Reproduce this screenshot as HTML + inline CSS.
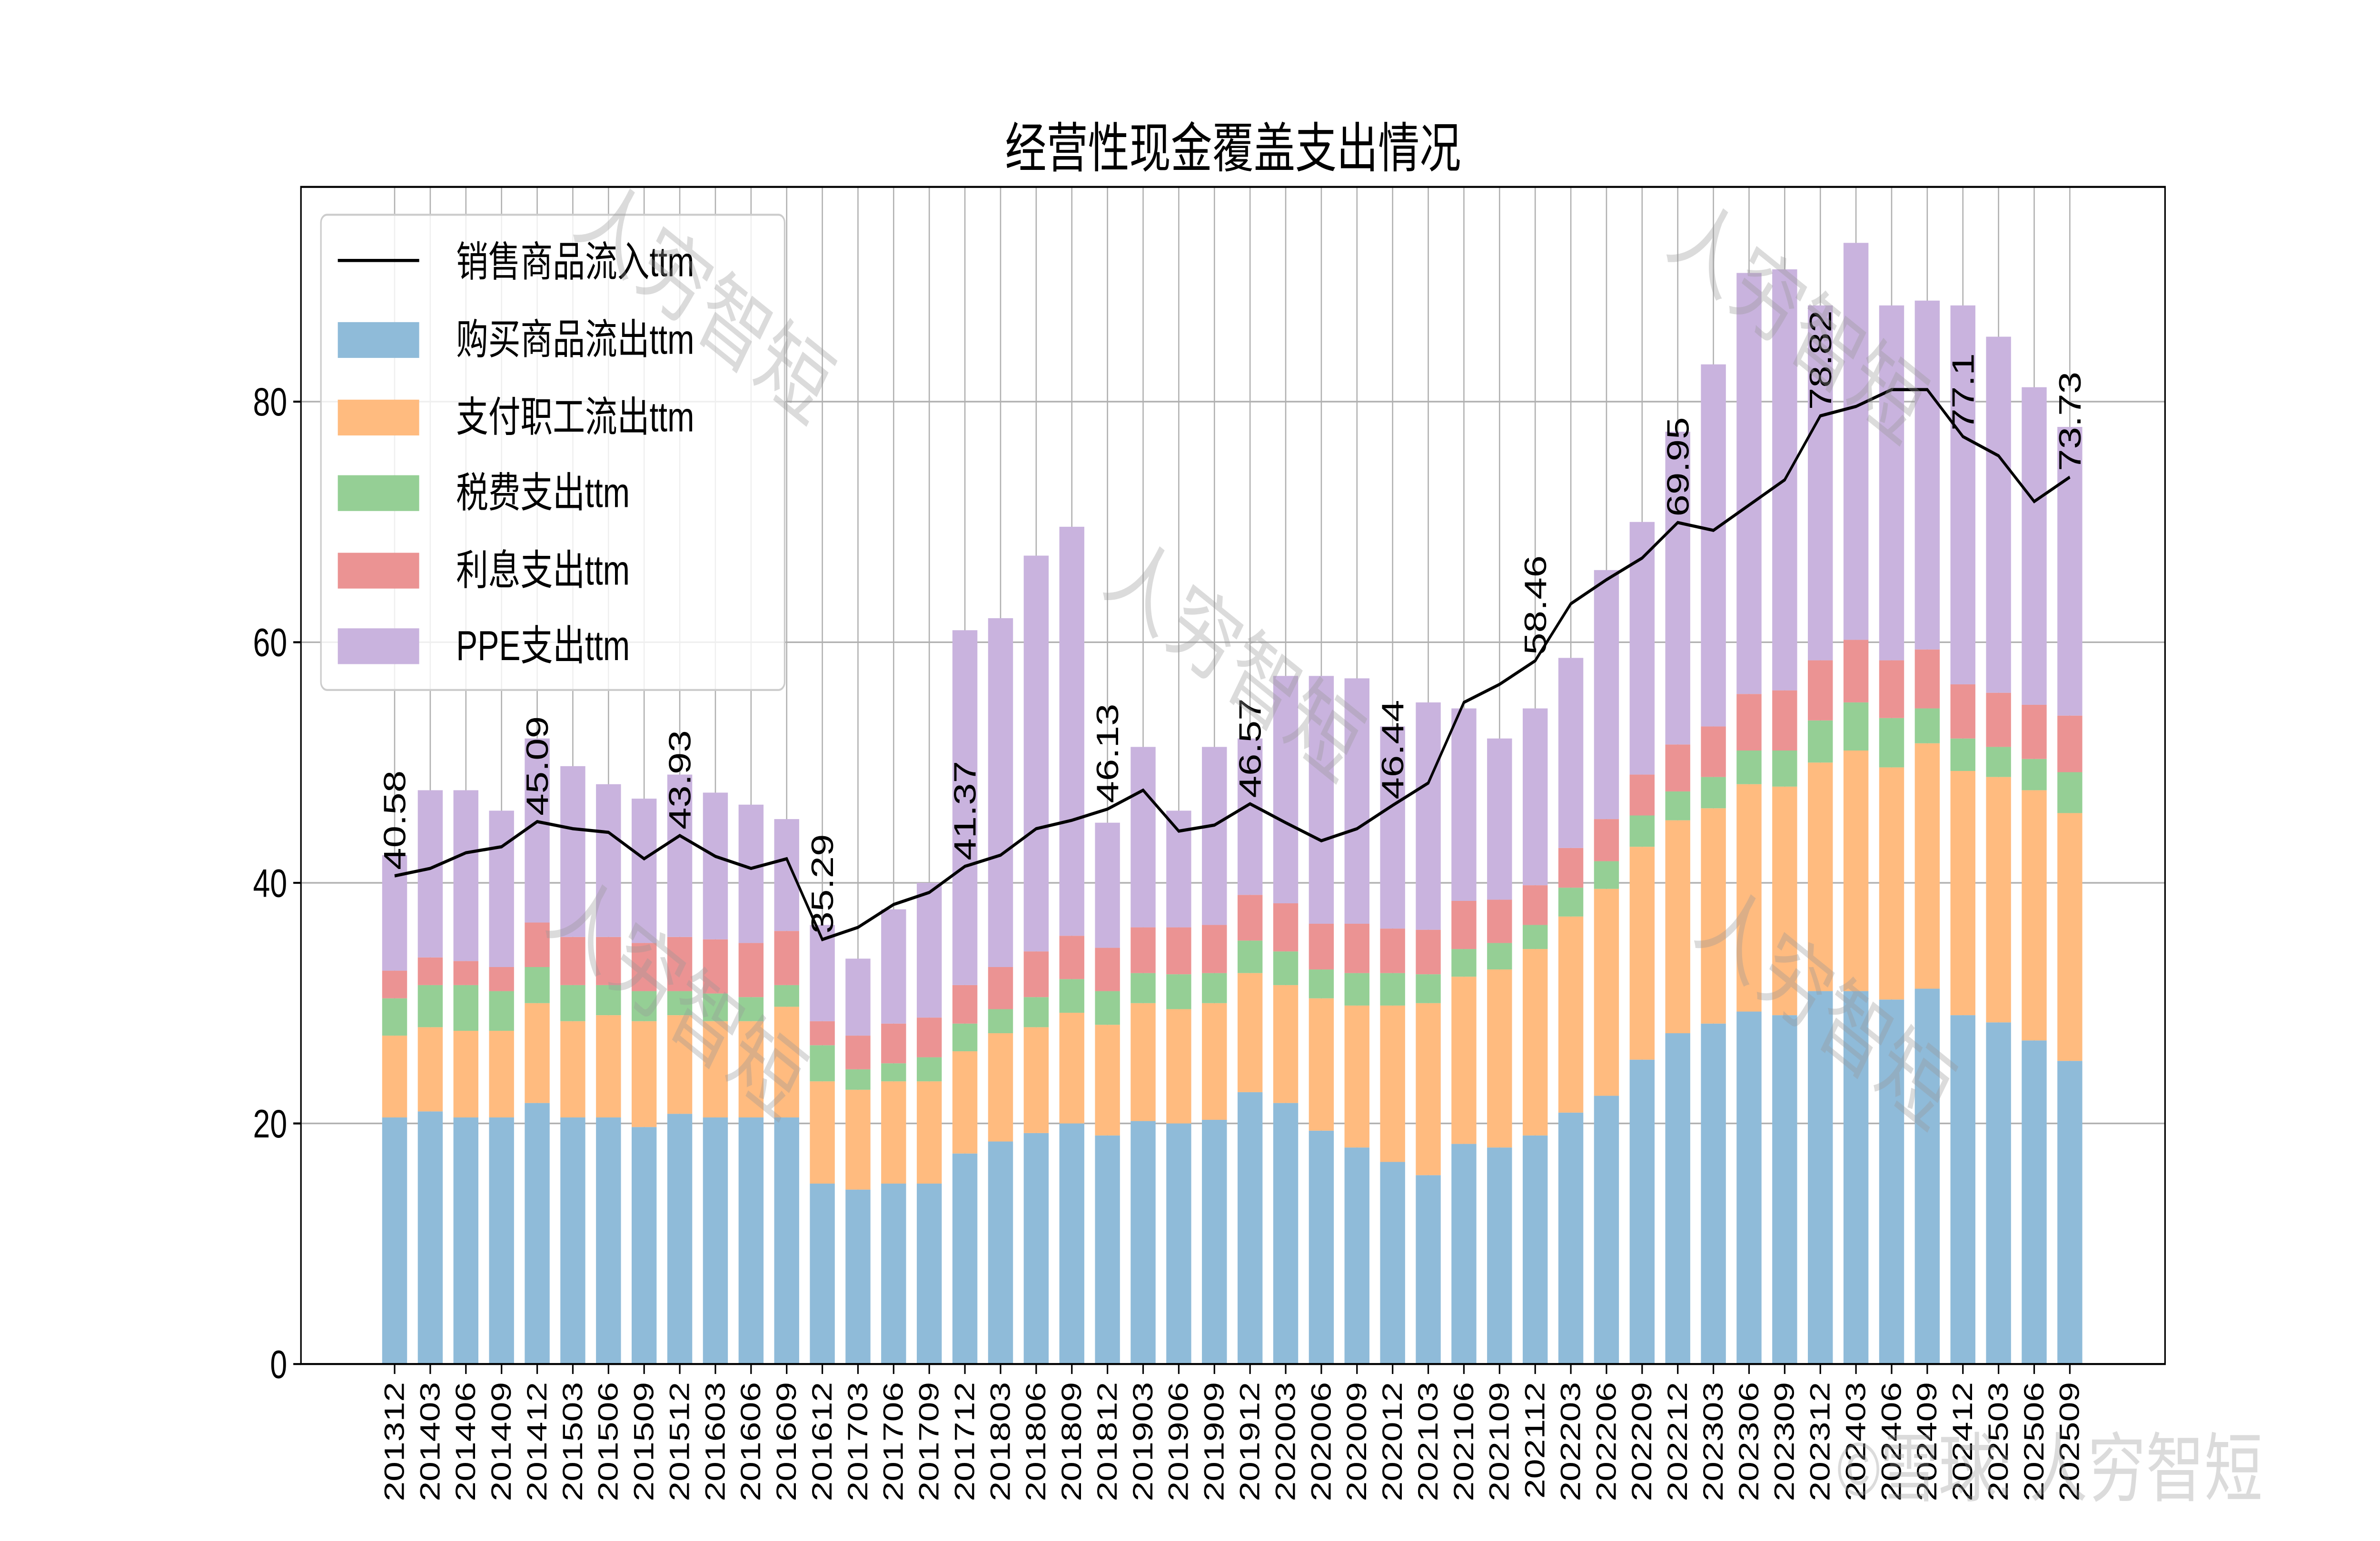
<!DOCTYPE html>
<html><head><meta charset="utf-8"><style>
html,body{margin:0;padding:0;background:#fff;overflow:hidden;width:100vw;height:100vh;}
svg{display:block;width:100vw;height:100vh;font-family:"Liberation Sans","Noto Sans CJK SC",sans-serif;}
</style></head><body>
<svg id="chart" viewBox="0 0 1550 775" preserveAspectRatio="none" xmlns="http://www.w3.org/2000/svg">
<rect x="0" y="0" width="1550" height="775" fill="#fff"/>
<text x="803" y="84" font-size="27" text-anchor="middle" fill="#000">经营性现金覆盖支出情况</text>
<g id="grid"></g>
<g id="bars"></g>
<g id="line"></g>
<g id="labels"></g>
<g id="axes"></g>
<g>
<rect x="209" y="108" width="302" height="239" rx="4" fill="#fff" fill-opacity="0.8" stroke="#ccc"/>
<line x1="220" y1="131" x2="273" y2="131" stroke="#000" stroke-width="1.6"/>
<text x="297" y="139" font-size="21">销售商品流入ttm</text>
<rect x="220" y="162" width="53" height="18" fill="#8fbbd9"/>
<text x="297" y="178" font-size="21">购买商品流出ttm</text>
<rect x="220" y="201" width="53" height="18" fill="#ffbb7f"/>
<text x="297" y="217" font-size="21">支付职工流出ttm</text>
<rect x="220" y="239" width="53" height="18" fill="#95cf95"/>
<text x="297" y="255" font-size="21">税费支出ttm</text>
<rect x="220" y="278" width="53" height="18" fill="#eb9393"/>
<text x="297" y="294" font-size="21">利息支出ttm</text>
<rect x="220" y="316" width="53" height="18" fill="#c9b3de"/>
<text x="297" y="332" font-size="21">PPE支出ttm</text>
</g>
<g fill="#999" fill-opacity="0.35" font-size="46" text-anchor="middle">
<text transform="translate(450,165) rotate(32)">人穷智短</text>
<text transform="translate(795,345) rotate(32)">人穷智短</text>
<text transform="translate(432,515) rotate(32)">人穷智短</text>
<text transform="translate(1162,175) rotate(32)">人穷智短</text>
<text transform="translate(1180,520) rotate(32)">人穷智短</text>
<text x="1335" y="752" font-size="38">©雪球: 人穷智短</text>
</g>
</svg>
<script>
const categories=["201312","201403","201406","201409","201412","201503","201506","201509","201512","201603","201606","201609","201612","201703","201706","201709","201712","201803","201806","201809","201812","201903","201906","201909","201912","202003","202006","202009","202012","202103","202106","202109","202112","202203","202206","202209","202212","202303","202306","202309","202312","202403","202406","202409","202412","202503","202506","202509"];
const purchase=[20.5,21,20.5,20.5,21.7,20.5,20.5,19.7,20.8,20.5,20.5,20.5,15,14.5,15,15,17.5,18.5,19.2,20,19,20.2,20,20.3,22.6,21.7,19.4,18,16.8,15.7,18.3,18,19,20.9,22.3,25.3,27.5,28.3,29.3,29,31,31,30.3,31.2,29,28.4,26.9,25.2];
const salary=[6.8,7,7.2,7.2,8.3,8,8.5,8.8,8.2,8,8,9.2,8.5,8.3,8.5,8.5,8.5,9,8.8,9.2,9.2,9.8,9.5,9.7,9.9,9.8,11,11.8,13,14.3,13.9,14.8,15.5,16.3,17.2,17.7,17.7,17.9,18.9,19,19,20,19.3,20.4,20.3,20.4,20.8,20.6];
const tax=[3.1,3.5,3.8,3.3,3,3,2.5,2.5,2,2.3,2,1.8,3,1.7,1.5,2,2.3,2,2.5,2.8,2.8,2.5,2.9,2.5,2.7,2.8,2.4,2.7,2.7,2.4,2.3,2.2,2,2.4,2.3,2.6,2.4,2.6,2.8,3,3.5,4,4.1,2.9,2.7,2.5,2.6,3.4];
const interest=[2.3,2.3,2,2,3.7,4,4,4,4.5,4.5,4.5,4.5,2,2.8,3.3,3.3,3.2,3.5,3.8,3.6,3.6,3.8,3.9,4,3.8,4,3.8,4.1,3.7,3.7,4,3.6,3.3,3.3,3.5,3.4,3.9,4.2,4.7,5,5,5.2,4.8,4.9,4.5,4.5,4.5,4.7];
const ppe=[9.6,13.9,14.2,13,15.3,14.2,12.7,12,13.5,12.2,11.5,9.3,8,6.4,9.5,11.2,29.5,29,32.9,34,10.4,15,9.7,14.8,13,18.9,20.6,20.4,16.8,18.9,16,13.4,14.7,15.8,20.7,21,26,30.1,35,35,29.5,33,29.5,29,31.5,29.6,26.4,24];
const inflow=[40.58,41.2,42.5,43,45.09,44.5,44.2,42,43.93,42.2,41.2,42,35.29,36.3,38.2,39.2,41.37,42.3,44.5,45.2,46.13,47.7,44.3,44.8,46.57,45,43.5,44.5,46.44,48.3,55,56.5,58.46,63.2,65.2,67,69.95,69.3,71.4,73.5,78.82,79.6,81,81,77.1,75.5,71.7,73.73];
const yTicks=[0,20,40,60,80];
const labelEvery=4;

const NS="http://www.w3.org/2000/svg";
const X0=196,X1=1410,Y0=686,Ytop=94;
const firstX=257,step=(1348-257)/(categories.length-1);
function xs(i){return firstX+i*step;}
function ys(v){return Y0-v*(484/80);}
function mk(tag,attrs,parent){const e=document.createElementNS(NS,tag);for(const k in attrs)e.setAttribute(k,attrs[k]);parent.appendChild(e);return e;}
const grid=document.getElementById('grid'),bars=document.getElementById('bars'),lineG=document.getElementById('line'),labels=document.getElementById('labels'),axes=document.getElementById('axes');
categories.forEach((c,i)=>{
  const g=mk('line',{x1:xs(i),x2:xs(i),y1:Ytop,y2:Y0,stroke:'#b0b0b0','stroke-width':0.8},grid);
  
  
});
yTicks.forEach(t=>{
  const g=mk('line',{x1:X0,x2:X1,y1:ys(t),y2:ys(t),stroke:'#b0b0b0','stroke-width':0.8},grid);
  
  
  const tk=mk('line',{x1:X0-5,x2:X0,y1:ys(t),y2:ys(t),stroke:'#000'},axes);
  
  
  const tl=mk('text',{x:X0-9,y:ys(t)+7,'font-size':20,'text-anchor':'end'},axes);
  tl.textContent=t;
  
  
});
const series=[[purchase,'#8fbbd9','purchase'],[salary,'#ffbb7f','salary'],[tax,'#95cf95','tax'],[interest,'#eb9393','interest'],[ppe,'#c9b3de','ppe']];
const bw=step*0.7;
categories.forEach((c,i)=>{
  let base=0;
  series.forEach(([arr,col,nm])=>{
    const v=arr[i];
    const r=mk('rect',{x:xs(i)-bw/2,y:ys(base+v),width:bw,height:ys(base)-ys(base+v),fill:col},bars);
    
    
    base+=v;
  });
  const tk=mk('line',{x1:xs(i),x2:xs(i),y1:Y0,y2:Y0+5,stroke:'#000'},axes);
  
  
  const tl=mk('text',{transform:`translate(${xs(i)+6},${Y0+9}) rotate(-90)`,'font-size':18,'text-anchor':'end'},axes);
  tl.textContent=c;
  
  
});
const pl=mk('polyline',{points:inflow.map((v,i)=>xs(i)+','+ys(v)).join(' '),fill:'none',stroke:'#000','stroke-width':1.6},lineG);


inflow.forEach((v,i)=>{
  if(i%labelEvery===0||i===inflow.length-1){
    const t=mk('text',{transform:`translate(${xs(i)+7},${ys(v)-3}) rotate(-90)`,'font-size':20},labels);
    t.textContent=String(v);
    
    
  }
});
const fr=mk('rect',{x:X0,y:Ytop,width:X1-X0,height:Y0-Ytop,fill:'none',stroke:'#000','stroke-width':1},axes);


</script>
</body></html>
